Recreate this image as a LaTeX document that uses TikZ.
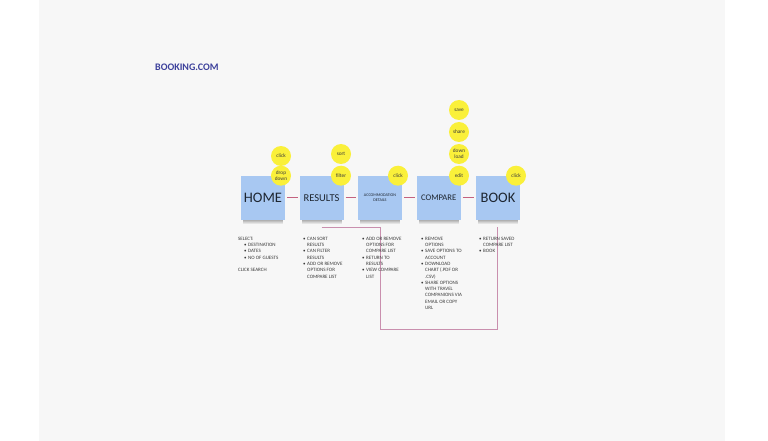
\documentclass[tikz,border=0pt]{standalone}
\usepackage{fontspec}
\setmainfont{Carlito}
\usetikzlibrary{fadings}
\definecolor{bg}{HTML}{F7F7F7}
\definecolor{boxblue}{HTML}{A8C8F2}
\definecolor{stick}{HTML}{FAF03A}
\definecolor{link}{HTML}{C4627F}
\definecolor{loopc}{HTML}{C98FAE}
\definecolor{titlec}{HTML}{3D419C}
\definecolor{ink}{HTML}{3A3A3A}
\definecolor{boxink}{HTML}{1E2631}
\newcommand\bul[1]{\makebox[4pt][l]{•}#1}
\newcommand\ind{\hspace*{4pt}}
\begin{document}
\begin{tikzpicture}[x=1pt,y=-1pt,
  stickybox/.style={fill=boxblue, minimum width=44pt, minimum height=44pt, inner sep=0, text=boxink},
  dot/.style={circle, fill=stick, minimum size=20pt, inner sep=0, font=\fontsize{5.3}{5.8}\selectfont, align=center, text=ink},
  note/.style={anchor=north west, inner sep=0, align=left, font=\fontsize{5}{6.3}\selectfont, text=ink},
  linkline/.style={draw=link, line width=0.75pt, shorten <=1.8pt, shorten >=1.8pt},
  loopline/.style={draw=loopc, line width=0.9pt},
  shade/.style={fill=black, opacity=0.5, path fading=south}]
\useasboundingbox (0,0) rectangle (768,441);
\fill[white] (0,0) rectangle (768,441);
\fill[bg] (39,0) rectangle (725,441);

\node[anchor=west, inner sep=0, text=titlec, font=\bfseries\fontsize{10}{12}\selectfont] (title) at (155,67) {BOOKING.COM};

% shadows
\foreach \cx in {263,321.5,380,438.7,498}
  \fill[shade] (\cx-20,217) rectangle (\cx+20,224);

% boxes
\node[stickybox, font=\fontsize{14.5}{16}\selectfont] (home) at (263,197.8) {HOME};
\node[stickybox, font=\fontsize{10.5}{12}\selectfont] (res) at (321.5,197.8) {RESULTS};
\node[stickybox, font=\fontsize{4.1}{5}\selectfont, align=center] (acc) at (380,197.8) {ACCOMMODATION\\DETAILS};
\node[stickybox, font=\fontsize{8.6}{10}\selectfont] (cmp) at (438.7,197.8) {COMPARE};
\node[stickybox, font=\fontsize{14.5}{16}\selectfont] (book) at (498,197.8) {BOOK};

% connectors
\draw[linkline] (home.east) -- (res.west);
\draw[linkline] (res.east) -- (acc.west);
\draw[linkline] (acc.east) -- (cmp.west);
\draw[linkline] (cmp.east) -- (book.west);

% loop
\coordinate (l1) at (321.5,227.3);
\coordinate (l2) at (380,227.3);
\coordinate (l3) at (380,329.5);
\coordinate (l4) at (497.5,227.3);
\draw[loopline] (l1) -- (l2) -- (l3) -| (l4);

% dots
\node[dot] (hclick) at (281,156) {click};
\node[dot] (hdrop) at (281,175.7) {drop\\down};
\node[dot] (rsort) at (341,154) {sort};
\node[dot] (rfilter) at (341,175.7) {filter};
\node[dot] (aclick) at (398,175.7) {click};
\node[dot] (csave) at (459,110) {save};
\node[dot] (cshare) at (459,132) {share};
\node[dot] (cdown) at (459,154) {down\\load};
\node[dot] (cedit) at (459,175.7) {edit};
\node[dot] (bclick) at (516,175.7) {click};

% notes
\node[note] (nhome) at (238,236.8) {SELECT:\\
\hspace*{6pt}\bul{DESTINATION}\\
\hspace*{6pt}\bul{DATES}\\
\hspace*{6pt}\bul{NO OF GUESTS}\\[6.3pt]
CLICK SEARCH};
\node[note] (nres) at (303,236.8) {\bul{CAN SORT}\\ \ind RESULTS\\ \bul{CAN FILTER}\\ \ind RESULTS\\ \bul{ADD OR REMOVE}\\ \ind OPTIONS FOR\\ \ind COMPARE LIST};
\node[note] (nacc) at (362,236.8) {\bul{ADD OR REMOVE}\\ \ind OPTIONS FOR\\ \ind COMPARE LIST\\ \bul{RETURN TO}\\ \ind RESULTS\\ \bul{VIEW COMPARE}\\ \ind LIST};
\node[note] (ncmp) at (421,236.8) {\bul{REMOVE}\\ \ind OPTIONS\\ \bul{SAVE OPTIONS TO}\\ \ind ACCOUNT\\ \bul{DOWNLOAD}\\ \ind CHART (.PDF OR\\ \ind .CSV)\\ \bul{SHARE OPTIONS}\\ \ind WITH TRAVEL\\ \ind COMPANIONS VIA\\ \ind EMAIL OR COPY\\ \ind URL};
\node[note] (nbook) at (479,236.8) {\bul{RETURN SAVED}\\ \ind COMPARE LIST\\ \bul{BOOK}};
\end{tikzpicture}
\end{document}
